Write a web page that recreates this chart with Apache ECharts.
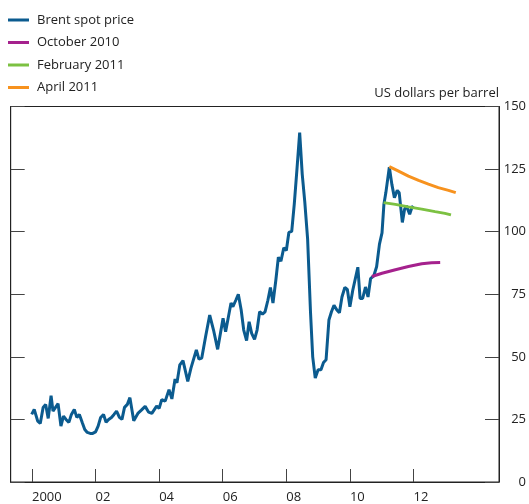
<!DOCTYPE html>
<html>
<head>
	<meta charset="UTF-8" />
	<title>Brent spot price and futures curves</title>
	<script src="https://cdn.jsdelivr.net/npm/echarts@6/dist/echarts.min.js"></script>
	<style>
		html, body { margin: 0; padding: 0; background: #fff; }
		#chart { width: 529px; height: 504px; }
	</style>
</head>
<body>
	<div id="chart"></div>
	<script type="text/javascript">
		// year ticks on the x axis
		const yearTicks = [2000, 2002, 2004, 2006, 2008, 2010, 2012];

		// Brent spot price, US dollars per barrel (dates as decimal years)
		const brentYears = [
			1999.99, 2000.07, 2000.18, 2000.26, 2000.35, 2000.43, 2000.51, 2000.60, 2000.66, 2000.74, 2000.82, 2000.91,
			2000.99, 2001.07, 2001.16, 2001.24, 2001.33, 2001.41, 2001.49, 2001.58, 2001.66, 2001.74, 2001.83, 2001.91,
			2002.00, 2002.08, 2002.16, 2002.25, 2002.33, 2002.41, 2002.50, 2002.58, 2002.66, 2002.75, 2002.83, 2002.91,
			2003.00, 2003.08, 2003.20, 2003.33, 2003.44, 2003.56, 2003.67, 2003.77, 2003.92,
			2004.00, 2004.08, 2004.19, 2004.31, 2004.40, 2004.50, 2004.56, 2004.65, 2004.75, 2004.90,
			2005.00, 2005.17, 2005.25, 2005.34, 2005.46, 2005.59, 2005.71, 2005.84,
			2006.01, 2006.09, 2006.26, 2006.32, 2006.41, 2006.49, 2006.58, 2006.66, 2006.75, 2006.83, 2006.91,
			2007.00, 2007.08, 2007.16, 2007.25, 2007.33, 2007.42, 2007.50, 2007.58, 2007.67, 2007.75, 2007.83, 2007.92,
			2008.00, 2008.08, 2008.17, 2008.25, 2008.33, 2008.42, 2008.50, 2008.58, 2008.67, 2008.76, 2008.83, 2008.91,
			2009.00, 2009.09, 2009.17, 2009.25, 2009.34, 2009.42, 2009.50, 2009.59, 2009.67, 2009.75, 2009.84, 2009.92,
			2010.00, 2010.09, 2010.17, 2010.25, 2010.32, 2010.40, 2010.49, 2010.57, 2010.65, 2010.75, 2010.84, 2010.93,
			2011.01, 2011.07, 2011.13, 2011.24, 2011.32, 2011.40, 2011.49, 2011.55, 2011.65, 2011.72, 2011.78, 2011.82,
			2011.88, 2011.95, 2011.99
		];
		const brentPrices = [
			27.0, 29.0, 24.3, 23.4, 29.8, 31.0, 25.4, 34.5, 28.3, 29.8, 31.3, 22.3,
			26.3, 25.0, 23.8, 27.0, 29.0, 25.8, 27.0, 23.8, 21.0, 19.8, 19.4, 19.4,
			20.0, 22.3, 25.8, 27.0, 23.9, 25.0, 25.8, 27.0, 28.3, 25.8, 25.0, 29.8,
			31.0, 33.7, 24.5, 27.4, 28.7, 30.2, 27.9, 27.4, 30.3,
			29.4, 32.9, 32.3, 36.9, 33.2, 41.1, 39.6, 46.8, 48.5, 40.2,
			45.5, 52.8, 49.1, 49.5, 58.0, 66.7, 60.7, 53.0,
			65.4, 60.0, 71.5, 70.0, 72.6, 75.0, 68.7, 60.7, 56.5, 64.0, 59.4,
			57.0, 60.7, 68.0, 67.1, 68.0, 72.6, 77.7, 71.5, 80.6, 89.8, 88.2, 93.5,
			92.5, 99.7, 100.1, 111.0, 124.2, 139.6, 123.0, 112.0, 97.0, 68.0, 50.0, 41.5,
			44.8, 44.8, 47.7, 48.8, 64.7, 68.0, 70.6, 68.7, 67.6, 73.9, 77.7, 76.9,
			70.0, 76.6, 81.2, 85.8, 73.3, 73.3, 77.9, 73.9, 81.2, 82.3, 86.0, 95.0,
			99.5, 111.0, 115.5, 125.8, 118.9, 113.6, 116.5, 115.6, 103.7, 109.0, 110.3, 110.9,
			107.0, 109.6, 110.3
		];

		// futures curves
		const oct2010Years = [2010.69, 2011.01, 2011.43, 2011.84, 2012.26, 2012.57, 2012.84];
		const oct2010Prices = [82.1, 83.4, 84.8, 86.1, 87.2, 87.6, 87.7];
		const feb2011Years = [2011.06, 2011.43, 2011.84, 2012.26, 2012.68, 2012.99, 2013.18];
		const feb2011Prices = [111.6, 110.9, 109.9, 109.0, 108.0, 107.3, 106.7];
		const apr2011Years = [2011.24, 2011.53, 2011.84, 2012.16, 2012.47, 2012.78, 2013.10, 2013.33];
		const apr2011Prices = [126.0, 124.2, 122.2, 120.5, 119.0, 117.6, 116.5, 115.6];

		function pairs(xs, ys) {
			return xs.map((x, i) => [x, ys[i]]);
		}

		const font = "Open Sans";
		const chart = echarts.init(document.getElementById("chart"), null, { renderer: "canvas" });

		function lineSeries(name, xs, ys, color) {
			return {
				name: name,
				type: "line",
				data: pairs(xs, ys),
				showSymbol: false,
				symbol: "none",
				lineStyle: { color: color, width: 3 },
				itemStyle: { color: color },
				emphasis: { disabled: true },
				z: 3
			};
		}

		const yCommon = {
			type: "value",
			min: 0,
			max: 150,
			interval: 25,
			splitLine: { show: false },
			axisLine: { show: true, lineStyle: { color: "#222", width: 1 } },
			axisTick: { show: true, inside: true, length: 14, lineStyle: { color: "#444", width: 1 } }
		};

		chart.setOption({
			animation: false,
			textStyle: { fontFamily: font },
			grid: {
				left: 10.7,
				right: 28,
				top: 106.5,
				bottom: 21.3,
				show: true,
				borderColor: "#222",
				borderWidth: 1,
				containLabel: false
			},
			legend: {
				orient: "vertical",
				left: 3,
				top: 7,
				itemWidth: 21,
				itemHeight: 3,
				itemGap: 6.5,
				icon: "rect",
				textStyle: { fontFamily: font, fontSize: 13, color: "#222", lineHeight: 16, padding: [0, 0, 0, 3] },
				data: ["Brent spot price", "October 2010", "February 2011", "April 2011"]
			},
			xAxis: {
				type: "value",
				min: 1999.33,
				max: 2014.69,
				splitLine: { show: false },
				axisLine: { show: true, lineStyle: { color: "#222", width: 1 } },
				axisTick: {
					show: true,
					inside: true,
					length: 13,
					customValues: yearTicks,
					lineStyle: { color: "#444", width: 1 }
				},
				axisLabel: {
					customValues: yearTicks,
					align: "left",
					margin: 9,
					fontSize: 13,
					color: "#222",
					fontFamily: font,
					formatter: function (v) {
						return v === 2000 ? "2000" : String(v % 100).padStart(2, "0");
					}
				}
			},
			yAxis: [
				Object.assign({}, yCommon, {
					position: "right",
					name: "US dollars per barrel",
					nameLocation: "end",
					nameGap: 7,
					nameTextStyle: { align: "right", fontSize: 13, color: "#222", fontFamily: font },
					axisLabel: { show: true, align: "right", margin: 27, fontSize: 13, color: "#222", fontFamily: font }
				}),
				Object.assign({}, yCommon, {
					position: "left",
					axisLabel: { show: false }
				})
			],
			series: [
				lineSeries("Brent spot price", brentYears, brentPrices, "#0b5b8f"),
				lineSeries("October 2010", oct2010Years, oct2010Prices, "#a5218d"),
				lineSeries("February 2011", feb2011Years, feb2011Prices, "#7cc142"),
				lineSeries("April 2011", apr2011Years, apr2011Prices, "#f7921e")
			]
		});
	</script>
</body>
</html>
